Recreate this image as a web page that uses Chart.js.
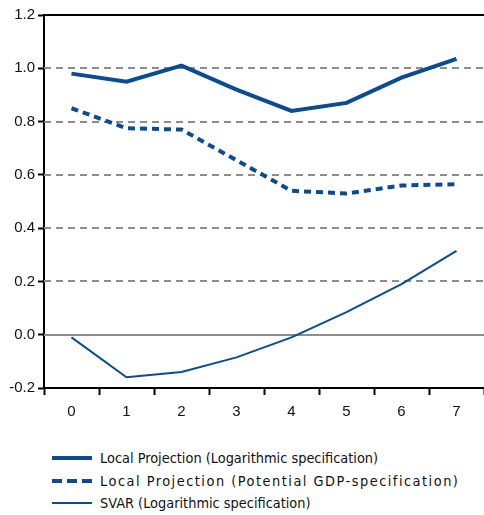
<!DOCTYPE html>
<html>
<head>
<meta charset="utf-8">
<script src="https://cdn.jsdelivr.net/npm/chart.js@4"></script>
<style>
  body { margin: 0; background: #fff; }
  #wrap { position: relative; width: 484px; height: 430px; }
  #legend { position: absolute; left: 52px; top: 447px; font-family: 'DejaVu Sans Condensed', 'DejaVu Sans', sans-serif; font-size: 14.4px; color: #111; }
  .item { display: flex; align-items: center; height: 22.5px; white-space: nowrap; }
  .item svg { margin-right: 8px; flex: none; }
</style>
</head>
<body>
<div id="wrap"><canvas id="chart"></canvas></div>
<div id="legend"></div>
<script>
// horizon (quarters)
const categories = ['0', '1', '2', '3', '4', '5', '6', '7'];
const lpLog = [0.98, 0.95, 1.01, 0.92, 0.84, 0.87, 0.965, 1.035];
const lpPotential = [0.85, 0.775, 0.77, 0.655, 0.54, 0.53, 0.56, 0.565];
const svarLog = [-0.01, -0.16, -0.14, -0.085, -0.01, 0.085, 0.19, 0.315];
const yTicks = [-0.2, 0, 0.2, 0.4, 0.6, 0.8, 1.0, 1.2];

const blue = '#0a4b91';
const gray = '#8c8c8c';
const tickFont = { family: "'Liberation Sans Narrow', 'Liberation Sans', Arial, sans-serif", size: 15 };

// gridlines: dashed gray, solid at zero, black frame on top
const gridPlugin = {
  id: 'gridPlugin',
  beforeDatasetsDraw(chart) {
    const ctx = chart.ctx;
    const area = chart.chartArea;
    const y = chart.scales.y;
    ctx.save();
    yTicks.forEach(v => {
      if (v === -0.2) return;
      const py = Math.round(y.getPixelForValue(v));
      ctx.beginPath();
      ctx.lineWidth = 2;
      if (v === 1.2) {
        ctx.strokeStyle = '#000';
        ctx.setLineDash([]);
      } else if (v === 0) {
        ctx.strokeStyle = gray;
        ctx.setLineDash([]);
      } else {
        ctx.strokeStyle = gray;
        ctx.setLineDash([7, 5]);
      }
      ctx.moveTo(area.left, py);
      ctx.lineTo(area.right, py);
      ctx.stroke();
    });
    ctx.restore();
  }
};

const datasets = [
  { label: 'Local Projection (Logarithmic specification)', data: lpLog, borderColor: blue, borderWidth: 4, borderDash: [] },
  { label: 'Local Projection (Potential GDP-specification)', data: lpPotential, borderColor: blue, borderWidth: 4, borderDash: [7, 5] },
  { label: 'SVAR (Logarithmic specification)', data: svarLog, borderColor: blue, borderWidth: 2, borderDash: [] }
];

new Chart(document.getElementById('chart'), {
  type: 'line',
  data: {
    labels: categories,
    datasets: datasets.map(d => Object.assign({ pointRadius: 0, fill: false, tension: 0 }, d))
  },
  options: {
    responsive: true,
    maintainAspectRatio: false,
    animation: false,
    layout: { padding: { top: 15, right: 0, left: 0, bottom: 0 } },
    plugins: { legend: { display: false }, tooltip: { enabled: false } },
    scales: {
      x: {
        offset: true,
        grid: { offset: true, drawOnChartArea: false, drawTicks: true, tickLength: 7, tickColor: '#000', tickWidth: 2 },
        border: { color: '#000', width: 2 },
        ticks: { color: '#111', font: tickFont, padding: 8, maxRotation: 0 },
        afterFit(s) { s.height = 42; }
      },
      y: {
        min: -0.2,
        max: 1.2,
        afterBuildTicks(s) { s.ticks = yTicks.map(v => ({ value: v })); },
        grid: { drawOnChartArea: false, drawTicks: true, tickLength: 6, tickColor: '#000', tickWidth: 2 },
        border: { color: '#000', width: 2 },
        ticks: { color: '#111', font: tickFont, padding: 3, callback: v => v.toFixed(1) },
        afterFit(s) { s.width = 44; }
      }
    }
  },
  plugins: [gridPlugin]
});

// legend built from the datasets
const legend = document.getElementById('legend');
datasets.forEach((d, i) => {
  const row = document.createElement('div');
  row.className = 'item';
  const dash = d.borderDash.length ? d.borderDash.join(' ') : 'none';
  row.innerHTML = '<svg width="40" height="8"><line x1="0" y1="4" x2="40" y2="4" stroke="' + d.borderColor +
    '" stroke-width="' + d.borderWidth + '" stroke-dasharray="' + (i === 1 ? '10 5' : dash) + '"/></svg>';
  const span = document.createElement('span');
  span.textContent = d.label;
  if (i === 1) span.style.letterSpacing = '1.5px';
  row.appendChild(span);
  legend.appendChild(row);
});
</script>
</body>
</html>
